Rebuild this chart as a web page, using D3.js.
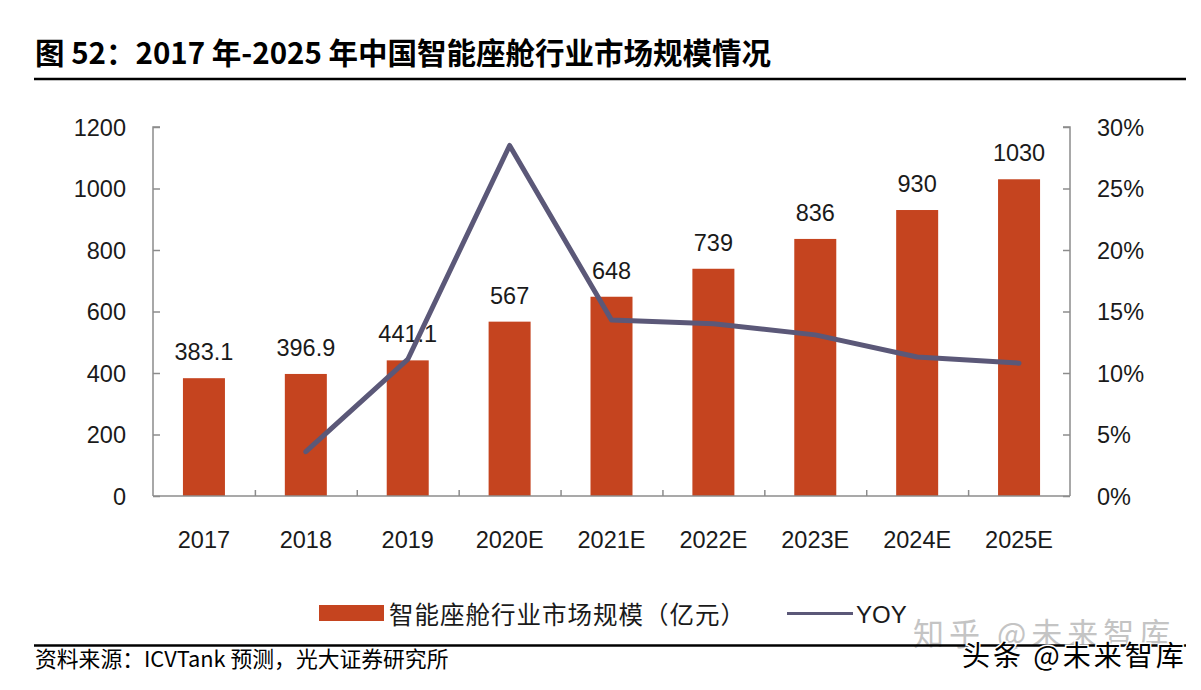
<!DOCTYPE html>
<html><head><meta charset="utf-8">
<script src="https://cdn.jsdelivr.net/npm/d3@7/dist/d3.min.js"></script>
<style>
body{margin:0;background:#fff;}
svg{display:block;}
</style></head>
<body>
<script>
const categories = ["2017","2018","2019","2020E","2021E","2022E","2023E","2024E","2025E"];
const marketSize = [383.1,396.9,441.1,567,648,739,836,930,1030];
const sizeLabels = ["383.1","396.9","441.1","567","648","739","836","930","1030"];
const yoy = [null,0.036,0.111,0.285,0.143,0.140,0.131,0.113,0.108];
const leftTicks = [0,200,400,600,800,1000,1200];
const rightTicks = [0,0.05,0.10,0.15,0.20,0.25,0.30];
const titleText = "图 52：2017 年-2025 年中国智能座舱行业市场规模情况";
const sourceText = "资料来源：ICVTank 预测，光大证券研究所";
const legendBar = "智能座舱行业市场规模（亿元）";
const legendLine = "YOY";

(function(){
const W = 1201, H = 690;
const svg = d3.select("body").append("svg").attr("width", W).attr("height", H);
const numFont = "'Liberation Sans', Arial, sans-serif";
const cjkFont = "'Noto Sans CJK SC', sans-serif";
const barColor = "#C5441F", lineColor = "#5B5878", axisColor = "#8C8C8C", txt = "#1a1a1a";

// title
svg.append("text").attr("x", 35).attr("y", 64).attr("font-family", cjkFont)
  .attr("font-weight", "bold").attr("font-size", 29.5).attr("fill", "#000").text(titleText);
svg.append("line").attr("x1", 34).attr("x2", 1186).attr("y1", 79).attr("y2", 79)
  .attr("stroke", "#000").attr("stroke-width", 2.5);

const pLeft = 153, pRight = 1070, pTop = 127, pBottom = 496;
const x = d3.scaleBand().domain(categories).range([pLeft, pRight]).paddingInner(0).paddingOuter(0);
const y = d3.scaleLinear().domain([0, 1200]).range([pBottom, pTop]);
const y2 = d3.scaleLinear().domain([0, 0.30]).range([pBottom, pTop]);

// bars
const bw = 42;
svg.append("g").selectAll("rect").data(marketSize).join("rect")
  .attr("x", (d, i) => x(categories[i]) + x.bandwidth() / 2 - bw / 2)
  .attr("width", bw)
  .attr("y", d => y(d))
  .attr("height", d => pBottom - y(d))
  .attr("fill", barColor);

// bar labels
svg.append("g").selectAll("text").data(marketSize).join("text")
  .attr("x", (d, i) => x(categories[i]) + x.bandwidth() / 2)
  .attr("y", d => y(d) - 18)
  .attr("text-anchor", "middle").attr("font-family", numFont).attr("font-size", 23.5)
  .attr("fill", txt).text((d, i) => sizeLabels[i]);

// axes
const axL = svg.append("g").attr("transform", `translate(${pLeft},0)`)
  .call(d3.axisRight(y).tickValues(leftTicks).tickSize(7).tickFormat(""));
const axR = svg.append("g").attr("transform", `translate(${pRight},0)`)
  .call(d3.axisLeft(y2).tickValues(rightTicks).tickSize(7).tickFormat(""));
const axB = svg.append("g").attr("transform", `translate(0,${pBottom})`)
  .call(d3.axisTop(d3.scaleLinear().domain([0, categories.length]).range([pLeft, pRight]))
    .tickValues(d3.range(1, categories.length)).tickSize(6).tickFormat(""));
[axL, axR, axB].forEach(g => {
  g.selectAll("path").attr("stroke", axisColor).attr("stroke-width", 1.5);
  g.selectAll("line").attr("stroke", axisColor).attr("stroke-width", 1.5);
});
axL.select("path").attr("d", `M7,${pTop}H0V${pBottom}`);
axR.select("path").attr("d", `M-7,${pTop}H0V${pBottom}`);
axB.select("path").attr("d", `M${pLeft},0H${pRight}`);

// tick labels
svg.append("g").selectAll("text").data(leftTicks).join("text")
  .attr("x", 126).attr("y", d => y(d) + 8.5).attr("text-anchor", "end")
  .attr("font-family", numFont).attr("font-size", 23.5).attr("fill", txt).text(d => d);
svg.append("g").selectAll("text").data(rightTicks).join("text")
  .attr("x", 1097).attr("y", d => y2(d) + 8.5).attr("text-anchor", "start")
  .attr("font-family", numFont).attr("font-size", 23.5).attr("fill", txt)
  .text(d => Math.round(d * 100) + "%");
svg.append("g").selectAll("text").data(categories).join("text")
  .attr("x", d => x(d) + x.bandwidth() / 2).attr("y", 548).attr("text-anchor", "middle")
  .attr("font-family", numFont).attr("font-size", 23.5).attr("fill", txt).text(d => d);

// line
const lineData = yoy.map((v, i) => ({c: categories[i], v})).filter(d => d.v !== null);
svg.append("path").datum(lineData)
  .attr("d", d3.line().x(d => x(d.c) + x.bandwidth() / 2).y(d => y2(d.v)))
  .attr("fill", "none").attr("stroke", lineColor).attr("stroke-width", 5)
  .attr("stroke-linejoin", "round").attr("stroke-linecap", "round");

// legend
svg.append("rect").attr("x", 319).attr("y", 605).attr("width", 65).attr("height", 16).attr("fill", barColor);
svg.append("text").attr("x", 389).attr("y", 624).attr("font-family", cjkFont).attr("font-size", 24.5)
  .attr("letter-spacing", 1).attr("fill", txt).text(legendBar);
svg.append("line").attr("x1", 787).attr("x2", 853).attr("y1", 613.5).attr("y2", 613.5)
  .attr("stroke", lineColor).attr("stroke-width", 3);
svg.append("text").attr("x", 856).attr("y", 623).attr("font-family", numFont).attr("font-size", 24)
  .attr("fill", txt).text(legendLine);

// watermark (grey)
svg.append("text").attr("x", 913).attr("y", 645).attr("font-family", cjkFont).attr("font-size", 31)
  .attr("letter-spacing", 5).attr("fill", "#c4c4c4").text("知乎 @未来智库");

// bottom rule + source
svg.append("line").attr("x1", 34).attr("x2", 1186).attr("y1", 645.5).attr("y2", 645.5)
  .attr("stroke", "#000").attr("stroke-width", 2.5);
svg.append("text").attr("x", 35).attr("y", 667).attr("font-family", cjkFont).attr("font-size", 21.8)
  .attr("fill", "#000").text(sourceText);

// watermark (black)
svg.append("text").attr("x", 962).attr("y", 666).attr("font-family", cjkFont).attr("font-size", 28)
  .attr("letter-spacing", 3)
  .attr("fill", "#000").attr("stroke", "#fff").attr("stroke-width", 3).attr("paint-order", "stroke")
  .text("头条 @未来智库");
})();
</script>
</body></html>
